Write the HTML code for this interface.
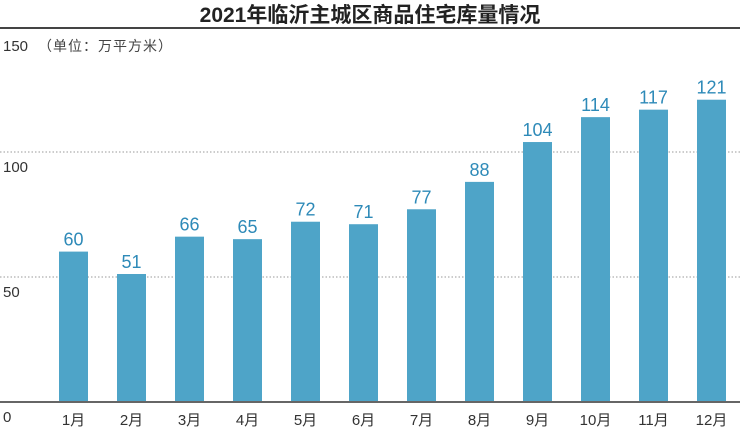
<!DOCTYPE html>
<html><head><meta charset="utf-8"><style>
body{margin:0;background:#fff;width:740px;height:429px;overflow:hidden}
svg text{font-family:"Liberation Sans","Noto Sans CJK SC",sans-serif}
</style></head><body>
<svg width="740" height="429" xmlns="http://www.w3.org/2000/svg">
<text x="370" y="22" text-anchor="middle" font-size="21" font-weight="bold" fill="#222">2021年临沂主城区商品住宅库量情况</text>
<line x1="0" y1="28" x2="740" y2="28" stroke="#444" stroke-width="2"/>
<text x="3" y="51" font-size="15" fill="#333">150</text>
<text x="38" y="51" font-size="14" fill="#444" letter-spacing="1">（单位：万平方米）</text>
<line x1="0" y1="152" x2="740" y2="152" stroke="#999" stroke-dasharray="1.5,2"/>
<line x1="0" y1="277" x2="740" y2="277" stroke="#999" stroke-dasharray="1.5,2"/>
<text x="3" y="172" font-size="15" fill="#333">100</text>
<text x="3" y="297" font-size="15" fill="#333">50</text>
<text x="3" y="422" font-size="15" fill="#333">0</text>
<line x1="0" y1="402" x2="740" y2="402" stroke="#333" stroke-width="1.5"/>
<g id="bars"></g>
</svg>
<script>
var v=[60,51,66,65,72,71,77,88,104,114,117,121],g=document.getElementById('bars'),s='';
v.forEach(function(d,i){var x=59+58*i,h=d*2.49,y=401-h;
s+='<rect x="'+x+'" y="'+y+'" width="29" height="'+h+'" fill="#4ea4c8"/>';
s+='<text x="'+(x+14.5)+'" y="'+(y-6)+'" text-anchor="middle" font-size="18" fill="#2e8ab8">'+d+'</text>';
s+='<text x="'+(x+14.5)+'" y="425" text-anchor="middle" font-size="15" fill="#333">'+(i+1)+'月</text>';});
g.innerHTML=s;
</script>
</body></html>
